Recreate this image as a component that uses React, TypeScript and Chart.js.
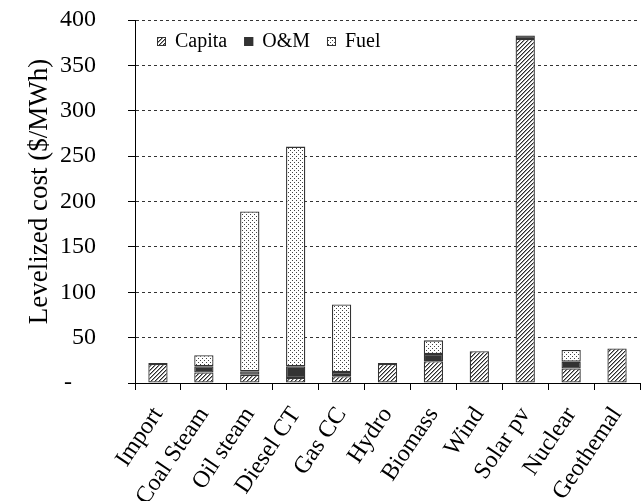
import React, { useEffect, useRef } from 'react';
import { Chart, registerables } from 'chart.js';

Chart.register(...registerables);

const categories = ['Import', 'Coal Steam', 'Oil steam', 'Diesel CT', 'Gas CC', 'Hydro', 'Biomass', 'Wind', 'Solar pv', 'Nuclear', 'Geothemal'];
const capitaValues = [21, 11.5, 9, 5.5, 7.5, 21, 24, 35, 379, 16, 38];
const omValues = [1, 7, 4, 13, 4.5, 1, 8, 0, 4, 7.5, 0];
const fuelValues = [0, 12, 176, 242, 74.5, 0, 15, 0, 0, 13, 0];
const seriesLabels = ['Capita', 'O&M', 'Fuel'];
const yTickValues = [0, 50, 100, 150, 200, 250, 300, 350, 400];
const yTitle = 'Levelized cost ($/MWh)';

const FONT = "'Liberation Serif', 'Times New Roman', serif";

function makeTile(size: number, draw: (c: CanvasRenderingContext2D) => void): CanvasPattern {
  const cv = document.createElement('canvas');
  cv.width = size;
  cv.height = size;
  const c = cv.getContext('2d')!;
  c.fillStyle = '#ffffff';
  c.fillRect(0, 0, size, size);
  draw(c);
  const ctx = document.createElement('canvas').getContext('2d')!;
  return ctx.createPattern(cv, 'repeat')!;
}

function hatchPattern() {
  return makeTile(4, (c) => {
    c.fillStyle = '#2a2a2a';
    for (let i = 0; i < 4; i++) c.fillRect(i, 3 - i, 1, 1);
    c.fillStyle = '#9a9a9a';
    for (let i = 0; i < 4; i++) c.fillRect((i + 1) % 4, 3 - i, 1, 1);
  });
}

function dotPattern() {
  return makeTile(4, (c) => {
    c.fillStyle = '#444';
    c.fillRect(0, 0, 1, 1);
    c.fillRect(2, 2, 1, 1);
  });
}

const legendPlugin = {
  id: 'customLegend',
  afterDraw(chart: any) {
    const ctx: CanvasRenderingContext2D = chart.ctx;
    const { left, top, bottom } = chart.chartArea;
    ctx.save();
    ctx.font = `20px ${FONT}`;
    ctx.textBaseline = 'middle';
    let x = left + 22;
    const y = top + 21;
    chart.data.datasets.forEach((ds: any) => {
      ctx.fillStyle = ds.backgroundColor;
      ctx.fillRect(x, y - 4, 9, 9);
      ctx.strokeStyle = '#333';
      ctx.lineWidth = 1;
      ctx.strokeRect(x + 0.5, y - 3.5, 8, 8);
      ctx.fillStyle = '#000';
      ctx.fillText(ds.label, x + 18, y + 1);
      x += 18 + ctx.measureText(ds.label).width + 17;
    });
    // y axis title
    ctx.font = `27px ${FONT}`;
    ctx.textAlign = 'center';
    ctx.fillStyle = '#000';
    ctx.translate(40, (top + bottom) / 2 - 10);
    ctx.rotate(-Math.PI / 2);
    ctx.fillText(yTitle, 0, 0);
    ctx.restore();
  },
};

export default function App() {
  const ref = useRef<HTMLCanvasElement>(null);

  useEffect(() => {
    document.body.style.margin = '0';
    const canvas = ref.current!;
    const colors = [hatchPattern(), '#333333', dotPattern()];
    const values = [capitaValues, omValues, fuelValues];
    const chart = new Chart(canvas, {
      type: 'bar',
      data: {
        labels: categories,
        datasets: seriesLabels.map((label, i) => ({
          label,
          data: values[i],
          backgroundColor: colors[i] as any,
          borderColor: '#333',
          borderWidth: 1.3,
          borderSkipped: false,
          barPercentage: 0.42,
          categoryPercentage: 1,
        })),
      },
      options: {
        responsive: false,
        animation: false,
        devicePixelRatio: 1,
        layout: { padding: { top: 20, right: 3, left: 0, bottom: 0 } },
        plugins: { legend: { display: false }, tooltip: { enabled: false } },
        scales: {
          x: {
            stacked: true,
            grid: { offset: true, drawOnChartArea: false, tickLength: 7, color: '#000' },
            border: { color: '#000', width: 1 },
            ticks: {
              autoSkip: false,
              minRotation: 56,
              maxRotation: 56,
              padding: 12,
              color: '#000',
              font: { size: 24, family: FONT },
            },
            afterFit(s: any) {
              s.height = 118;
              s.paddingLeft = 0;
              s.paddingRight = 0;
            },
          },
          y: {
            stacked: true,
            min: 0,
            max: 400,
            afterBuildTicks(s: any) { s.ticks = yTickValues.map((v) => ({ value: v })); },
            ticks: {
              padding: 32,
              color: '#000',
              font: { size: 24, family: FONT },
              callback: (v: any) => (Number(v) === 0 ? '-    ' : String(v)),
            },
            grid: { color: '#333', tickLength: 7, tickColor: '#000' },
            border: { color: '#000', width: 1, dash: [3, 3] },
            title: { display: false },
            afterFit(s: any) {
              s.width = 135;
              s.paddingTop = 0;
              s.paddingBottom = 0;
            },
          },
        },
      },
      plugins: [legendPlugin],
    });
    return () => chart.destroy();
  }, []);

  return (
    <div style={{ position: 'absolute', left: 0, top: 0, width: 643, height: 501, background: '#fff' }}>
      <canvas ref={ref} width={643} height={501} />
    </div>
  );
}
